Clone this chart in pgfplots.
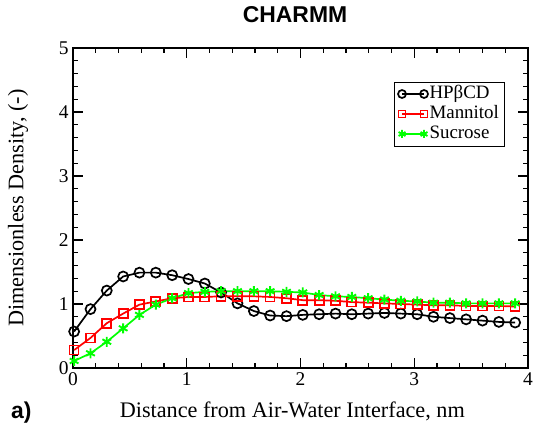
\documentclass[border=0pt]{standalone}
\usepackage{fontspec}
\setmainfont{Liberation Serif}
\setsansfont{Liberation Sans}
\usepackage{pgfplots}
\pgfplotsset{compat=1.18}

\begin{document}
\begin{tikzpicture}
\begin{axis}[
  scale only axis,
  width=455bp, height=320bp,
  xmin=0, xmax=4, ymin=0, ymax=5,
  xtick={0,1,2,3,4}, ytick={0,1,2,3,4,5},
  minor x tick num=4, minor y tick num=4,
  tick align=inside,
  major tick length=10bp, minor tick length=5bp,
  every tick/.style={black, line width=1.1bp},
  axis line style={line width=1.6bp},
  tick label style={font=\fontsize{19.5}{20}\selectfont},
  xticklabel style={yshift=-1bp},
  yticklabel style={xshift=-1bp},
  /pgf/number format/assume math mode=true,
  xlabel={Distance from Air-Water Interface, nm},
  ylabel={Dimensionless Density, (-)},
  label style={font=\fontsize{22.3}{23}\selectfont},
  xlabel style={at={(rel axis cs:0.482,0)}, anchor=base, yshift=-49bp},
  ylabel style={at={(rel axis cs:0,0.5)}, anchor=center, yshift=55bp},
  title={CHARMM},
  title style={font=\sffamily\bfseries\fontsize{23}{24}\selectfont,
    at={(rel axis cs:0.488,1)}, anchor=base, yshift=19.7bp},
  legend style={at={(0.948,0.895)}, anchor=north east, draw=black, line width=0.8bp,
    font=\fontsize{19}{20}\selectfont, inner xsep=3.5bp, inner ysep=2bp,
    /tikz/every even column/.append style={column sep=2bp},
    nodes={inner sep=1.5bp, text height=13bp, text depth=4bp}},
  legend cell align=left,
  legend image code/.code={\draw[#1, every mark/.append style={scale=0.8}]
    plot coordinates {(0bp,0bp) (22bp,0bp)};},
  clip=false,
]
\addplot[black, line width=1.7bp, mark=o, mark size=5bp, mark options={line width=1.7bp, fill=white}] coordinates {
(0.010,0.57) (0.154,0.92) (0.297,1.21) (0.441,1.43) (0.584,1.49) (0.728,1.49)
(0.872,1.45) (1.015,1.39) (1.159,1.32) (1.302,1.18) (1.446,1.01) (1.590,0.89)
(1.733,0.82) (1.877,0.81) (2.020,0.83) (2.164,0.84) (2.308,0.85) (2.451,0.84)
(2.595,0.85) (2.738,0.86) (2.882,0.85) (3.026,0.84) (3.169,0.80) (3.313,0.78)
(3.456,0.76) (3.600,0.74) (3.744,0.72) (3.887,0.71)};
\addlegendentry{HPβCD}
\addplot[red, line width=1.7bp, mark=square, mark size=4.5bp, mark options={line width=1.7bp, fill=white}] coordinates {
(0.010,0.28) (0.154,0.47) (0.297,0.70) (0.441,0.85) (0.584,0.99) (0.728,1.04)
(0.872,1.09) (1.015,1.11) (1.159,1.11) (1.302,1.12) (1.446,1.12) (1.590,1.12)
(1.733,1.11) (1.877,1.09) (2.020,1.06) (2.164,1.06) (2.308,1.05) (2.451,1.03)
(2.595,1.02) (2.738,1.01) (2.882,1.00) (3.026,0.99) (3.169,0.98) (3.313,0.98)
(3.456,0.97) (3.600,0.97) (3.744,0.97) (3.887,0.96)};
\addlegendentry{Mannitol}
\addplot[green, line width=1.7bp, mark=asterisk, mark size=5bp, mark options={line width=1.9bp}] coordinates {
(0.010,0.11) (0.154,0.23) (0.297,0.41) (0.441,0.62) (0.584,0.83) (0.728,0.99)
(0.872,1.09) (1.015,1.17) (1.159,1.19) (1.302,1.20) (1.446,1.20) (1.590,1.20)
(1.733,1.20) (1.877,1.19) (2.020,1.18) (2.164,1.14) (2.308,1.12) (2.451,1.11)
(2.595,1.09) (2.738,1.07) (2.882,1.05) (3.026,1.04) (3.169,1.02) (3.313,1.02)
(3.456,1.01) (3.600,1.01) (3.744,1.01) (3.887,1.01)};
\addlegendentry{Sucrose}
\coordinate (ll) at (rel axis cs:0,0);
\coordinate (ur) at (rel axis cs:1,1);
\node[font=\sffamily\bfseries\fontsize{23}{24}\selectfont, anchor=base west, inner sep=0pt]
  at ([shift={(-62bp,-50.3bp)}]ll) {a)};
\end{axis}
\pgfresetboundingbox
\path[use as bounding box] ([shift={(-73bp,-60bp)}]ll) rectangle ([shift={(5bp,48bp)}]ur);
\end{tikzpicture}
\end{document}
